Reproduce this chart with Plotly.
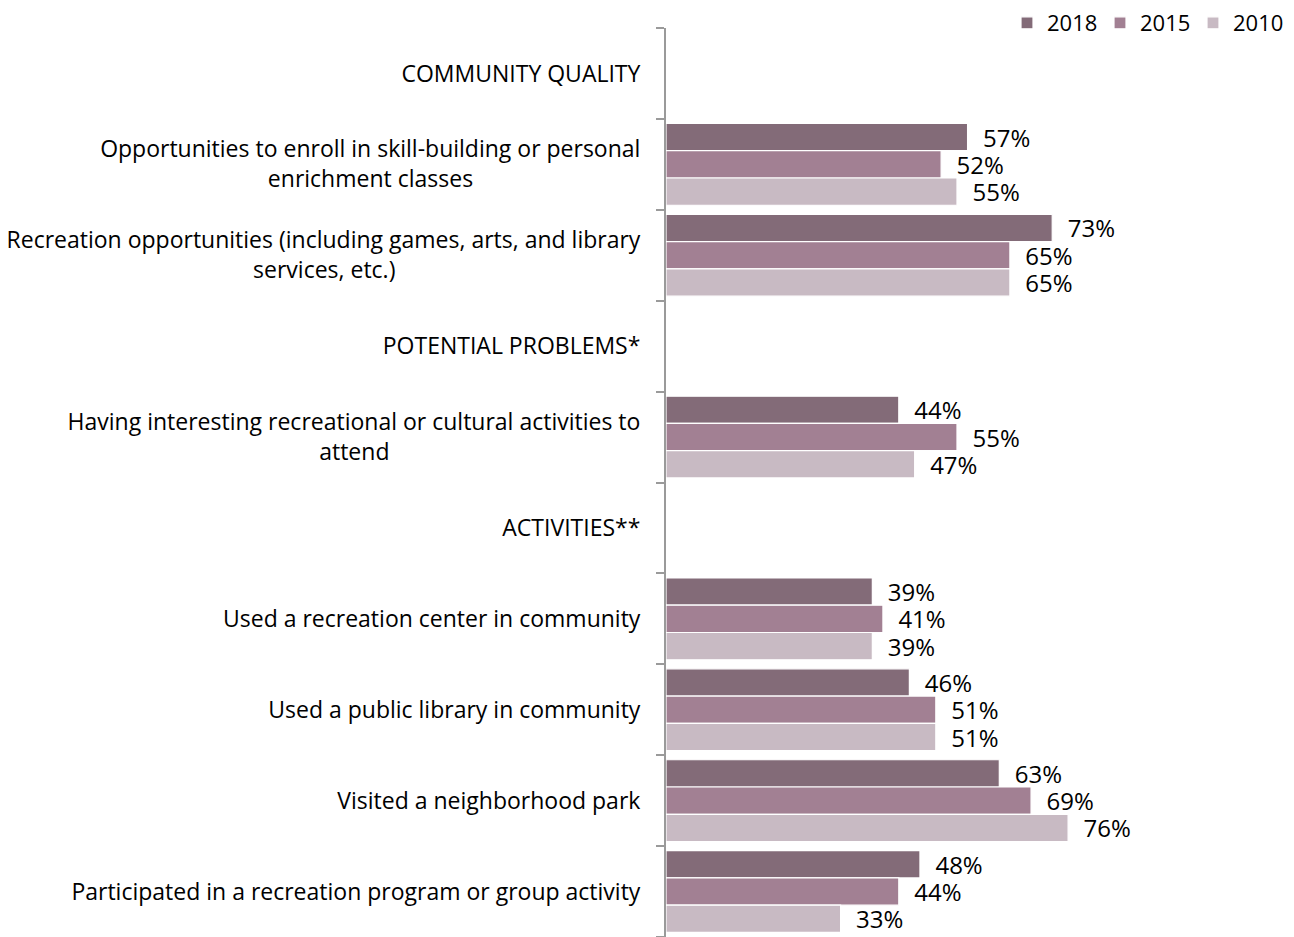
import plotly.graph_objects as go

categories = [
    "COMMUNITY QUALITY",
    "Opportunities to enroll in skill-building or personal\nenrichment classes",
    "Recreation opportunities (including games, arts, and library\nservices, etc.)",
    "POTENTIAL PROBLEMS*",
    "Having interesting recreational or cultural activities to\nattend",
    "ACTIVITIES**",
    "Used a recreation center in community",
    "Used a public library in community",
    "Visited a neighborhood park",
    "Participated in a recreation program or group activity",
]
series_names = ["2018", "2015", "2010"]
v2018 = [None, 57, 73, None, 44, None, 39, 46, 63, 48]
v2015 = [None, 52, 65, None, 55, None, 41, 51, 69, 44]
v2010 = [None, 55, 65, None, 47, None, 39, 51, 76, 33]
colors = ["#836B78", "#A28093", "#C8BAC3"]

FONT = "Open Sans"
NB = "\u00a0"

# the page body has an 8px margin; size the figure to fill the rest of the window
W, H = 1294 - 8, 937 - 8

# rough Open Sans advance widths (em) used only to centre wrapped tick lines
_EM = {" ": 0.26, "i": 0.25, "l": 0.25, "j": 0.25, "t": 0.35, "f": 0.33,
       "r": 0.41, "s": 0.47, "c": 0.48, "z": 0.47, "e": 0.56, "a": 0.56,
       "o": 0.60, "k": 0.52, "v": 0.50, "y": 0.50, "x": 0.52, "m": 0.93,
       "w": 0.79, ",": 0.25, ".": 0.27, "(": 0.30, ")": 0.30, "-": 0.32}


def _width(s):
    return sum(_EM.get(ch, 0.61 if ch.islower() else 0.65) for ch in s)


def tick_label(s):
    lines = s.split("\n")
    if len(lines) == 1:
        return s
    first, second = lines
    pad = int(round((_width(first) - _width(second)) / 2 / _EM[" "]))
    return first + "<br>" + second + NB * pad


ticktext = [tick_label(c) for c in categories]
ids = [f"c{i}" for i in range(len(categories))]

fig = go.Figure()
for name, vals, col in zip(series_names, [v2018, v2015, v2010], colors):
    fig.add_trace(go.Bar(
        name=name,
        y=ids,
        x=vals,
        orientation="h",
        marker=dict(color=col, line=dict(color="white", width=1.2)),
        text=[(NB * 2 + f"{v}%") if v is not None else "" for v in vals],
        textposition="outside",
        constraintext="none",
        textfont=dict(family=FONT, size=24, color="black"),
        cliponaxis=False,
    ))

fig.update_layout(
    width=W, height=H,
    margin=dict(l=658, r=0, t=20, b=0, autoexpand=False),
    barmode="group",
    bargap=0.1,
    bargroupgap=0.0,
    plot_bgcolor="white",
    paper_bgcolor="white",
    font=dict(family=FONT, size=23, color="black"),
    showlegend=True,
    legend=dict(
        orientation="h",
        xref="container", yref="container",
        x=1278 / W, xanchor="right",
        y=1 - 15 / H, yanchor="middle",
        font=dict(family=FONT, size=22, color="black"),
        itemwidth=30,
        entrywidth=48,
        traceorder="normal",
        bgcolor="rgba(0,0,0,0)",
    ),
    xaxis=dict(
        range=[0, 118.7],
        visible=False,
        showgrid=False,
        zeroline=False,
    ),
    yaxis=dict(
        type="category",
        autorange="reversed",
        tickmode="array",
        tickvals=ids,
        ticktext=ticktext,
        tickson="boundaries",
        ticks="outside",
        ticklen=8,
        tickcolor="#9a9a9a",
        tickwidth=2,
        showline=True,
        linecolor="#9a9a9a",
        linewidth=2,
        showgrid=False,
        ticklabelstandoff=19,
        tickfont=dict(family=FONT, size=23, color="black"),
    ),
)

fig.write_html("out.html")
